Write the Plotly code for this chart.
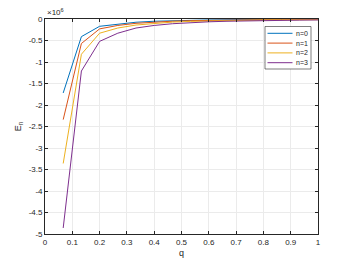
import plotly.graph_objects as go

q = [1/15, 2/15, 3/15, 4/15, 5/15, 6/15, 7/15, 8/15, 9/15, 10/15, 11/15, 12/15, 13/15, 14/15, 1.0]
# energies in units of 1e6
E0 = [-1.72, -0.41, -0.17, -0.115, -0.075, -0.052, -0.038, -0.029, -0.022, -0.018, -0.015, -0.012, -0.010, -0.009, -0.008]
E1 = [-2.34, -0.57, -0.23, -0.15, -0.10, -0.07, -0.051, -0.039, -0.030, -0.024, -0.020, -0.017, -0.014, -0.012, -0.010]
E2 = [-3.36, -0.82, -0.33, -0.21, -0.14, -0.10, -0.072, -0.055, -0.043, -0.035, -0.028, -0.024, -0.020, -0.017, -0.015]
E3 = [-4.86, -1.21, -0.52, -0.33, -0.21, -0.15, -0.11, -0.083, -0.065, -0.052, -0.042, -0.035, -0.030, -0.026, -0.022]
names = ["n=0", "n=1", "n=2", "n=3"]
colors = ["#0072BD", "#D95319", "#EDB120", "#7E2F8E"]

xticks = [0, 0.1, 0.2, 0.3, 0.4, 0.5, 0.6, 0.7, 0.8, 0.9, 1]
xticklabels = ["0", "0.1", "0.2", "0.3", "0.4", "0.5", "0.6", "0.7", "0.8", "0.9", "1"]
yticks = [-5, -4.5, -4, -3.5, -3, -2.5, -2, -1.5, -1, -0.5, 0]
yticklabels = ["-5", "-4.5", "-4", "-3.5", "-3", "-2.5", "-2", "-1.5", "-1", "-0.5", "0"]

FONT = "Liberation Sans, Arial, sans-serif"
TXT = "#262626"

fig = go.Figure()
for name, ys, c in zip(names, [E0, E1, E2, E3], colors):
    fig.add_trace(go.Scatter(x=q, y=ys, mode="lines", name=name,
                             line=dict(color=c, width=1), showlegend=False))

axis_common = dict(showgrid=True, gridcolor="#EBEBEB", gridwidth=1,
                   showline=True, linecolor=TXT, linewidth=0.8, mirror="ticks",
                   ticks="inside", ticklen=3, tickcolor=TXT, zeroline=False,
                   automargin=False,
                   tickfont=dict(family=FONT, size=8, color=TXT))

fig.update_xaxes(range=[0, 1], tickvals=xticks, ticktext=xticklabels,
                 title=dict(text="q", font=dict(family=FONT, size=9, color=TXT), standoff=4),
                 **axis_common)
fig.update_yaxes(range=[-5, 0], tickvals=yticks, ticktext=yticklabels,
                 title=dict(text="E<sub>n</sub>", font=dict(family=FONT, size=9, color=TXT), standoff=5),
                 **axis_common)

fig.add_annotation(text="×10<sup>6</sup>", xref="paper", yref="paper", x=0, y=1,
                   xanchor="left", yanchor="bottom", showarrow=False,
                   font=dict(family=FONT, size=8, color=TXT))

# page body has an 8px margin, so the figure is laid out 8px smaller and shifted
OFF = 8
W, H = 350 - OFF, 263 - OFF
L, R, T, B = 45 - OFF, 318 - OFF, 19 - OFF, 234 - OFF   # plot area in figure pixels

def px(x):
    return (x - OFF - L) / (R - L)
def py(y):
    return (B - (y - OFF)) / (B - T)

# compact MATLAB-style legend (reference page pixels -> paper coordinates)
fig.add_shape(type="rect", xref="paper", yref="paper",
              x0=px(265), x1=px(311), y0=py(69), y1=py(26.5),
              line=dict(color=TXT, width=0.6), fillcolor="white", layer="above")
for i, (name, c) in enumerate(zip(names, colors)):
    yc = 33.3 + i * 9.8
    fig.add_shape(type="line", xref="paper", yref="paper",
                  x0=px(267.5), x1=px(292.5), y0=py(yc), y1=py(yc),
                  line=dict(color=c, width=1), layer="above")
    fig.add_annotation(text=name, xref="paper", yref="paper", x=px(293.5), y=py(yc),
                       xanchor="left", yanchor="middle", showarrow=False,
                       font=dict(family=FONT, size=7, color=TXT))

fig.update_layout(width=W, height=H, margin=dict(l=L, r=W - R, t=T, b=H - B),
                  paper_bgcolor="white", plot_bgcolor="white",
                  showlegend=False)

fig.write_html("out.html")
